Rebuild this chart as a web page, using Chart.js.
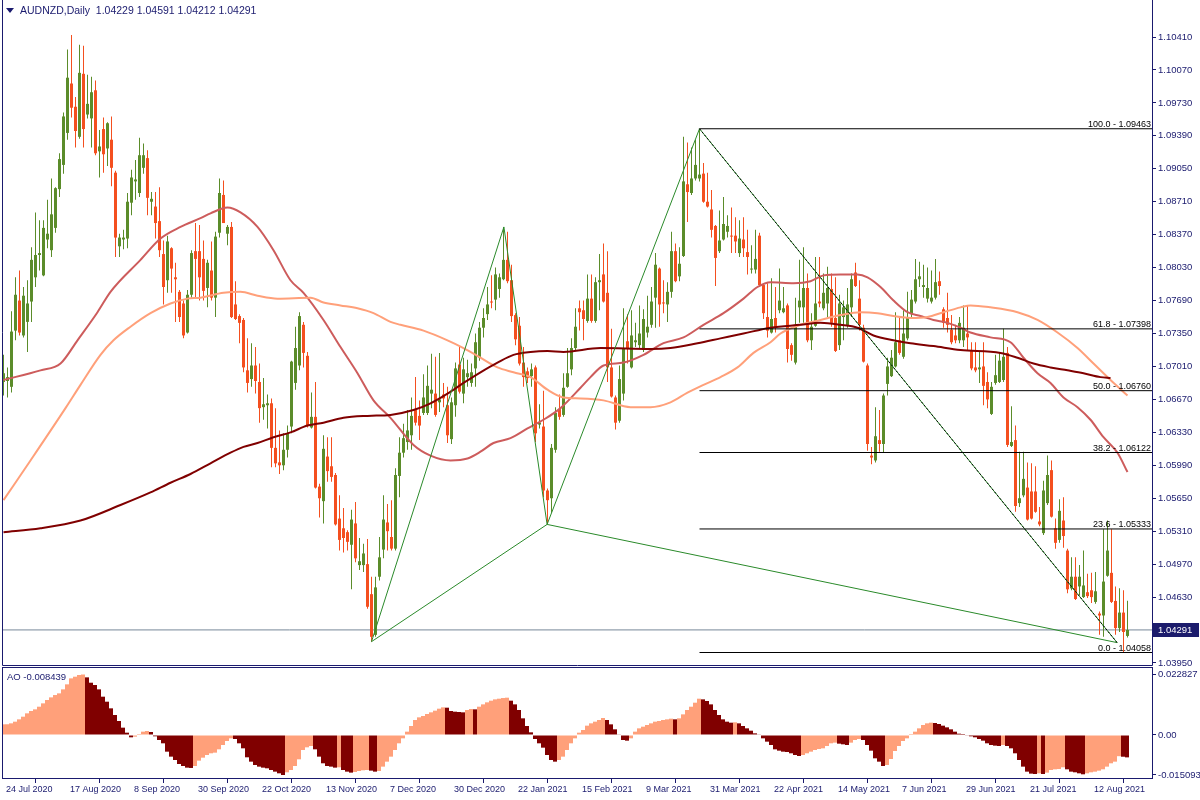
<!DOCTYPE html>
<html><head><meta charset="utf-8">
<script src="https://cdn.jsdelivr.net/npm/chart.js@4.4.1/dist/chart.umd.min.js"></script>
<style>
html,body{margin:0;padding:0;background:#fff;}
#wrap{position:relative;width:1200px;height:800px;overflow:hidden;background:#fff;}
canvas{position:absolute;left:0;top:0;}
.lbl{position:absolute;font:9.5px 'Liberation Sans',Arial,sans-serif;color:#1a1a6e;white-space:pre;line-height:12px;}
#title{font-size:10.5px;}
.tri{display:inline-block;width:0;height:0;border-left:4px solid transparent;border-right:4px solid transparent;border-top:5px solid #1a1a6e;margin-right:6px;vertical-align:1px;}
</style></head><body>
<div id="wrap">
<canvas id="main" width="1200" height="800"></canvas>
<canvas id="ao" width="1200" height="800"></canvas>
<div class="lbl" id="title" style="left:6px;top:4px"></div>
<div class="lbl" id="aoTitle" style="left:7px;top:671px"></div>
</div>
<script>
// ---------------- DATA ----------------
const symbol = 'AUDNZD,Daily';
const dateLabels = ['24 Jul 2020','17 Aug 2020','8 Sep 2020','30 Sep 2020','22 Oct 2020','13 Nov 2020','7 Dec 2020','30 Dec 2020','22 Jan 2021','15 Feb 2021','9 Mar 2021','31 Mar 2021','22 Apr 2021','14 May 2021','7 Jun 2021','29 Jun 2021','21 Jul 2021','12 Aug 2021'];
const dateIdx = [0,16,32,48,64,80,96,112,128,144,160,176,192,208,224,240,256,272];
const priceTicks = [1.10410,1.10070,1.09730,1.09390,1.09050,1.08710,1.08370,1.08030,1.07690,1.07350,1.07010,1.06670,1.06330,1.05990,1.05650,1.05310,1.04970,1.04630,1.03950];
const aoTicks = [0.022827, 0, -0.015093];
const aoTickLabels = ['0.022827','0.00','-0.015093'];

const O = [1.0685,1.0686,1.0680,1.0738,1.0769,1.0733,1.0747,1.0768,1.0793,1.0816,
1.0795,1.0832,1.0821,1.0844,1.0884,1.0909,1.0942,1.0993,1.0969,1.0938,
1.1003,1.0961,1.0957,1.0986,1.0923,1.0946,1.0926,1.0935,1.0901,1.0825,
1.0832,1.0833,1.0870,1.0892,1.0880,1.0906,1.0916,1.0871,1.0866,1.0851,
1.0817,1.0790,1.0823,1.0793,1.0778,1.0766,1.0736,1.0775,1.0820,1.0820,
1.0812,1.0782,1.0800,1.0772,1.0839,1.0878,1.0838,1.0845,1.0765,1.0753,
1.0749,1.0697,1.0688,1.0702,1.0685,1.0659,1.0661,1.0663,1.0617,1.0602,
1.0599,1.0615,1.0639,1.0684,1.0702,1.0744,1.0712,1.0638,1.0649,1.0577,
1.0562,1.0608,1.0598,1.0589,1.0544,1.0534,1.0530,1.0517,1.0539,1.0496,
1.0496,1.0497,1.0466,1.0424,1.0484,1.0512,1.0540,1.0525,1.0513,1.0588,
1.0612,1.0623,1.0630,1.0656,1.0650,1.0653,1.0653,1.0673,1.0673,1.0664,
1.0672,1.0661,1.0626,1.0661,1.0703,1.0673,1.0690,1.0684,1.0699,1.0710,
1.0741,1.0755,1.0768,1.0770,1.0781,1.0791,1.0811,1.0790,1.0754,1.0743,
1.0705,1.0696,1.0691,1.0700,1.0641,1.0639,1.0573,1.0565,1.0615,1.0657,
1.0651,1.0680,1.0698,1.0720,1.0761,1.0759,1.0748,1.0771,1.0748,1.0788,
1.0796,1.0777,1.0700,1.0669,1.0645,1.0673,1.0727,1.0700,1.0726,1.0723,
1.0718,1.0736,1.0744,1.0772,1.0802,1.0767,1.0765,1.0778,1.0820,1.0794,
1.0815,1.0889,1.0880,1.0895,1.0895,1.0900,1.0871,1.0863,1.0846,1.0820,
1.0832,1.0840,1.0836,1.0836,1.0818,1.0832,1.0819,1.0801,1.0801,1.0836,
1.0785,1.0752,1.0736,1.0751,1.0759,1.0757,1.0764,1.0723,1.0705,1.0762,
1.0762,1.0782,1.0728,1.0743,1.0768,1.0761,1.0766,1.0781,1.0751,1.0723,
1.0752,1.0743,1.0762,1.0798,1.0771,1.0741,1.0702,1.0609,1.0604,1.0625,
1.0621,1.0683,1.0691,1.0701,1.0728,1.0711,1.0730,1.0755,1.0768,1.0791,
1.0783,1.0771,1.0768,1.0772,1.0789,1.0760,1.0751,1.0739,1.0733,1.0728,
1.0728,1.0735,1.0718,1.0700,1.0698,1.0701,1.0685,1.0652,1.0684,1.0685,
1.0687,1.0715,1.0619,1.0625,1.0560,1.0568,1.0576,1.0572,1.0572,1.0541,
1.0529,1.0560,1.0594,1.0534,1.0522,1.0542,1.0511,1.0472,1.0484,1.0474,
1.0463,1.0468,1.0470,1.0458,1.0446,1.0444,1.0485,1.0488,1.0459,1.0431,
1.0447,1.04229];

const H = [1.0713,1.0700,1.0758,1.0793,1.0800,1.0783,1.0790,1.0824,1.0860,1.0852,
1.0852,1.0873,1.0895,1.0886,1.0921,1.0963,1.1028,1.1043,1.0979,1.1033,
1.1032,1.1002,1.1000,1.0996,1.0945,1.0958,1.0953,1.0959,1.0903,1.0838,
1.0842,1.0880,1.0904,1.0914,1.0937,1.0931,1.0924,1.0881,1.0881,1.0886,
1.0831,1.0836,1.0824,1.0808,1.0780,1.0769,1.0780,1.0821,1.0849,1.0847,
1.0831,1.0811,1.0830,1.0840,1.0895,1.0893,1.0847,1.0850,1.0789,1.0755,
1.0751,1.0730,1.0725,1.0721,1.0704,1.0689,1.0672,1.0668,1.0658,1.0635,
1.0632,1.0640,1.0707,1.0742,1.0757,1.0747,1.0716,1.0674,1.0685,1.0580,
1.0630,1.0628,1.0628,1.0591,1.0568,1.0555,1.0532,1.0553,1.0561,1.0524,
1.0518,1.0523,1.0484,1.0484,1.0525,1.0568,1.0559,1.0563,1.0596,1.0628,
1.0642,1.0656,1.0669,1.0690,1.0666,1.0693,1.0702,1.0714,1.0711,1.0715,
1.0684,1.0680,1.0669,1.0705,1.0721,1.0710,1.0708,1.0704,1.0735,1.0747,
1.0761,1.0783,1.0795,1.0803,1.0797,1.0845,1.0840,1.0806,1.0756,1.0752,
1.0721,1.0700,1.0704,1.0702,1.0662,1.0676,1.0575,1.0621,1.0659,1.0672,
1.0694,1.0720,1.0730,1.0761,1.0769,1.0769,1.0796,1.0796,1.0793,1.0817,
1.0828,1.0820,1.0740,1.0671,1.0702,1.0761,1.0755,1.0759,1.0746,1.0764,
1.0760,1.0774,1.0783,1.0818,1.0803,1.0790,1.0788,1.0840,1.0828,1.0824,
1.0938,1.0932,1.0927,1.0935,1.09463,1.0911,1.0901,1.0883,1.0847,1.0862,
1.0876,1.0857,1.0865,1.0855,1.0852,1.0855,1.0842,1.0826,1.0842,1.0839,
1.0787,1.0787,1.0792,1.0783,1.0802,1.0783,1.0766,1.0725,1.0772,1.0811,
1.0824,1.0797,1.0756,1.0814,1.0814,1.0797,1.0804,1.0797,1.0793,1.0775,
1.0769,1.0782,1.0797,1.0808,1.0790,1.0744,1.0704,1.0618,1.0659,1.0656,
1.0673,1.0710,1.0718,1.0757,1.0752,1.0759,1.0778,1.0780,1.0812,1.0809,
1.0806,1.0803,1.0800,1.0812,1.0799,1.0762,1.0777,1.0754,1.0744,1.0752,
1.0764,1.0764,1.0726,1.0726,1.0716,1.0726,1.0695,1.0685,1.0713,1.0716,
1.0740,1.0721,1.0660,1.0640,1.0613,1.0613,1.0602,1.0601,1.0598,1.0556,
1.0583,1.0609,1.0604,1.0544,1.0564,1.0566,1.0513,1.0504,1.0504,1.0496,
1.0511,1.0487,1.0488,1.0489,1.0448,1.0533,1.0542,1.0533,1.0474,1.0472,
1.0470,1.04591];

const L = [1.0671,1.0669,1.0674,1.0728,1.0733,1.0731,1.0716,1.0747,1.0783,1.0800,
1.0794,1.0823,1.0814,1.0839,1.0876,1.0900,1.0935,1.0958,1.0927,1.0936,
1.0927,1.0957,1.0927,1.0919,1.0896,1.0901,1.0908,1.0887,1.0814,1.0814,
1.0822,1.0823,1.0857,1.0873,1.0876,1.0900,1.0857,1.0857,1.0833,1.0814,
1.0765,1.0777,1.0777,1.0747,1.0747,1.0730,1.0735,1.0772,1.0771,1.0769,
1.0769,1.0762,1.0769,1.0752,1.0834,1.0849,1.0826,1.0751,1.0749,1.0725,
1.0695,1.0674,1.0680,1.0673,1.0643,1.0646,1.0637,1.0597,1.0597,1.0590,
1.0594,1.0607,1.0632,1.0677,1.0697,1.0700,1.0638,1.0637,1.0575,1.0545,
1.0539,1.0582,1.0582,1.0537,1.0511,1.0509,1.0511,1.0471,1.0499,1.0491,
1.0489,1.0451,1.0417,1.0422,1.0480,1.0503,1.0511,1.0511,1.0511,1.0566,
1.0607,1.0615,1.0615,1.0640,1.0625,1.0651,1.0651,1.0658,1.0649,1.0654,
1.0659,1.0622,1.0621,1.0649,1.0673,1.0663,1.0680,1.0680,1.0680,1.0707,
1.0731,1.0749,1.0761,1.0759,1.0772,1.0790,1.0787,1.0747,1.0723,1.0702,
1.0680,1.0684,1.0680,1.0623,1.0637,1.0566,1.0539,1.0550,1.0612,1.0646,
1.0649,1.0679,1.0692,1.0718,1.0738,1.0728,1.0746,1.0746,1.0746,1.0759,
1.0767,1.0685,1.0669,1.0636,1.0643,1.0666,1.0704,1.0699,1.0721,1.0720,
1.0716,1.0731,1.0741,1.0741,1.0742,1.0756,1.0747,1.0772,1.0788,1.0789,
1.0814,1.0850,1.0878,1.0893,1.0892,1.0870,1.0865,1.0834,1.0784,1.0818,
1.0831,1.0834,1.0818,1.0818,1.0814,1.0814,1.0796,1.0797,1.0797,1.0783,
1.0750,1.0731,1.0735,1.0736,1.0756,1.0756,1.0705,1.0707,1.0703,1.0746,
1.0746,1.0726,1.0718,1.0742,1.0762,1.0759,1.0752,1.0742,1.0716,1.0718,
1.0728,1.0741,1.0752,1.0783,1.0738,1.0705,1.0614,1.0600,1.0602,1.0613,
1.0612,1.0671,1.0690,1.0700,1.0713,1.0709,1.0728,1.0752,1.0766,1.0783,
1.0772,1.0767,1.0766,1.0770,1.0775,1.0741,1.0736,1.0724,1.0725,1.0725,
1.0721,1.0718,1.0697,1.0695,1.0684,1.0661,1.0658,1.0651,1.0682,1.0684,
1.0685,1.0618,1.0618,1.0551,1.0556,1.0566,1.0542,1.0543,1.0550,1.0536,
1.0527,1.0558,1.0545,1.0513,1.0519,1.0514,1.0467,1.0470,1.0460,1.0465,
1.0462,1.0462,1.0457,1.0456,1.0424,1.0422,1.0484,1.0457,1.0424,1.0427,
1.04058,1.04212];

const C = [1.0694,1.0690,1.0737,1.0775,1.0736,1.0774,1.0766,1.0811,1.0816,1.0818,
1.0844,1.0838,1.0858,1.0885,1.0915,1.0959,1.0999,1.0968,1.0944,1.1004,
1.0946,1.0972,1.0984,1.0921,1.0928,1.0920,1.0952,1.0906,1.0834,1.0834,
1.0834,1.0871,1.0896,1.0894,1.0919,1.0919,1.0875,1.0874,1.0849,1.0821,
1.0783,1.0830,1.0802,1.0791,1.0752,1.0733,1.0775,1.0818,1.0812,1.0793,
1.0779,1.0808,1.0772,1.0835,1.0880,1.0849,1.0845,1.0752,1.0750,1.0746,
1.0700,1.0684,1.0702,1.0686,1.0658,1.0662,1.0663,1.0617,1.0601,1.0599,
1.0615,1.0632,1.0706,1.0720,1.0753,1.0715,1.0640,1.0649,1.0576,1.0565,
1.0616,1.0593,1.0587,1.0538,1.0522,1.0524,1.0520,1.0543,1.0503,1.0500,
1.0508,1.0453,1.0422,1.0473,1.0504,1.0543,1.0531,1.0513,1.0589,1.0612,
1.0627,1.0635,1.0650,1.0643,1.0640,1.0669,1.0681,1.0677,1.0651,1.0667,
1.0668,1.0630,1.0664,1.0699,1.0675,1.0698,1.0694,1.0695,1.0726,1.0741,
1.0751,1.0765,1.0767,1.0796,1.0793,1.0811,1.0789,1.0753,1.0729,1.0704,
1.0690,1.0689,1.0698,1.0632,1.0643,1.0573,1.0563,1.0617,1.0653,1.0649,
1.0679,1.0694,1.0720,1.0742,1.0757,1.0750,1.0771,1.0748,1.0788,1.0790,
1.0768,1.0700,1.0670,1.0643,1.0688,1.0720,1.0720,1.0733,1.0728,1.0735,
1.0750,1.0742,1.0768,1.0806,1.0765,1.0766,1.0778,1.0820,1.0789,1.0807,
1.0892,1.0881,1.0895,1.0909,1.0899,1.0871,1.0866,1.0842,1.0813,1.0831,
1.0848,1.0846,1.0835,1.0830,1.0833,1.0823,1.0814,1.0802,1.0812,1.0785,
1.0756,1.0738,1.0750,1.0741,1.0769,1.0761,1.0719,1.0713,1.0744,1.0769,
1.0782,1.0728,1.0742,1.0766,1.0766,1.0777,1.0782,1.0746,1.0717,1.0766,
1.0762,1.0765,1.0791,1.0784,1.0744,1.0706,1.0621,1.0607,1.0629,1.0621,
1.0671,1.0701,1.0710,1.0726,1.0715,1.0735,1.0752,1.0770,1.0791,1.0794,
1.0785,1.0782,1.0772,1.0788,1.0784,1.0746,1.0744,1.0726,1.0728,1.0746,
1.0741,1.0731,1.0699,1.0697,1.0700,1.0681,1.0667,1.0680,1.0692,1.0707,
1.0711,1.0620,1.0623,1.0557,1.0565,1.0585,1.0543,1.0544,1.0551,1.0538,
1.0573,1.0589,1.0546,1.0519,1.0552,1.0526,1.0471,1.0484,1.0461,1.0484,
1.0475,1.0464,1.0463,1.0469,1.0444,1.0479,1.0511,1.0458,1.0431,1.0447,
1.0427,1.04291];

// moving averages (sampled along the bar index)
const maMidIdx = [0,9.25,14.25,18.5,23.5,26.75,34.25,39.25,44.25,49.25,51.75,56,59.25,63.5,67.5,71.75,75,80,84.25,88.5,92.5,96.75,102.5,106.75,111.75,116,119.25,122.5,126.75,131,135,139.25,144.25,146.75,150,155,160,165,170,175,180,185,188.5,191.75,197.5,201.75,205,209.25,213.5,216,219.25,222.5,226,229.25,232.5,236,239.25,241.75,246.75,251.75,255,258.5,261.75,265,268.5,271.75,275,278.5,281];
const maMidVal = [1.0687,1.0697,1.0704,1.0728,1.0757,1.0778,1.0811,1.0833,1.0845,1.0854,1.0859,1.0865,1.0860,1.0845,1.0821,1.0790,1.0777,1.0749,1.0721,1.0694,1.0666,1.0648,1.0620,1.0609,1.0604,1.0606,1.0613,1.0622,1.0627,1.0637,1.0646,1.0658,1.0679,1.0690,1.0702,1.0705,1.0713,1.0725,1.0731,1.0744,1.0756,1.0771,1.0783,1.0788,1.0787,1.0789,1.0795,1.0796,1.0796,1.0793,1.0783,1.0769,1.0757,1.0753,1.0749,1.0746,1.0741,1.0736,1.0731,1.0726,1.0710,1.0694,1.0684,1.0669,1.0659,1.0646,1.0628,1.0612,1.0592];
const maSlowIdx = [0,6.75,15.5,19.25,24.25,27.5,31.75,36.75,41.75,46,49.25,55,59.25,63.5,68.5,76.75,80,84.25,88.5,92.5,96.75,99.25,105,111,115,119.25,123.5,127.5,131.75,136,140,144.25,150,156.75,161.75,166.75,171,175,179.25,183.5,187.5,191.75,194.25,199.25,204.25,209.25,214.25,218.5,222.5,226.75,231,235,239.25,241.75,246.75,253.5,258.5,263.5,268.5,272.5,276.75,281];
const maSlowVal = [1.0563,1.0604,1.0658,1.0682,1.0713,1.0728,1.0742,1.0756,1.0766,1.0771,1.0772,1.0777,1.0778,1.0774,1.0771,1.0772,1.0767,1.0764,1.0761,1.0756,1.0747,1.0744,1.0738,1.0728,1.0720,1.0710,1.0700,1.0695,1.0690,1.0677,1.0669,1.0668,1.0666,1.0659,1.0659,1.0664,1.0674,1.0682,1.0690,1.0700,1.0715,1.0726,1.0735,1.0744,1.0749,1.0754,1.0757,1.0756,1.0753,1.0751,1.0752,1.0757,1.0762,1.0764,1.0762,1.0757,1.0749,1.0736,1.0720,1.0704,1.0687,1.0671];
const maLongIdx = [0,9.25,19.25,29.25,36.75,41.75,46.75,51.75,56.75,60,63.5,67.5,71.75,76,80,85,91,96.75,102.5,106.75,111,115,119.25,123.5,127.5,131.75,136,140,149.25,161.75,166.75,173.5,179.25,185,191.75,199.25,204.25,209.25,213.5,217.5,222.5,226.75,232.5,239.25,249.25,253.5,257.5,261.75,266,270,274.25,276.75];
const maLongVal = [1.0530,1.0534,1.0542,1.0558,1.0571,1.0581,1.0590,1.0601,1.0612,1.0618,1.0622,1.0628,1.0633,1.0640,1.0643,1.0648,1.0650,1.0651,1.0656,1.0663,1.0673,1.0684,1.0695,1.0705,1.0713,1.0716,1.0717,1.0716,1.0720,1.0719,1.0720,1.0725,1.0730,1.0735,1.0741,1.0744,1.0746,1.0744,1.0741,1.0733,1.0728,1.0725,1.0722,1.0718,1.0715,1.0710,1.0704,1.0700,1.0697,1.0694,1.0690,1.0689];

// Fibonacci retracement
const fibStart = 174;
const fibPct = [100.0, 61.8, 50.0, 38.2, 23.6, 0.0];
const fibPrice = [1.09463, 1.07398, 1.06760, 1.06122, 1.05333, 1.04058];

// harmonic pattern X, A, B, C, D
const patIdx = [92, 125.1, 135.9, 174, 278.4];
const patPrice = [1.0417, 1.0845, 1.0538, 1.09463, 1.0416];

// Awesome Oscillator
const AO = [0.00402,0.00405,0.00440,0.00503,0.00591,0.00691,0.00817,0.00905,0.00968,0.01068,
0.01194,0.01320,0.01420,0.01508,0.01571,0.01722,0.01911,0.02137,0.02200,0.02263,
0.022827,0.02175,0.01973,0.01886,0.01722,0.01446,0.01257,0.01006,0.00754,0.00528,
0.00277,0.00088,-0.00088,-0.00063,0.00038,0.00126,0.00151,0.00113,-0.00050,-0.00189,
-0.00314,-0.00629,-0.00817,-0.00943,-0.01094,-0.01169,-0.01232,-0.01244,-0.01169,-0.00968,
-0.00855,-0.00754,-0.00691,-0.00666,-0.00541,-0.00377,-0.00226,-0.00126,-0.00151,-0.00314,
-0.00503,-0.00842,-0.01006,-0.01131,-0.01194,-0.01232,-0.01257,-0.01320,-0.01383,-0.01446,
-0.015093,-0.01408,-0.01320,-0.01169,-0.00918,-0.00566,-0.00465,-0.00415,-0.00541,-0.00817,
-0.01068,-0.01169,-0.01194,-0.01232,-0.01219,-0.01320,-0.01383,-0.01420,-0.01395,-0.01358,
-0.01332,-0.01320,-0.01345,-0.01383,-0.01358,-0.01194,-0.01006,-0.00817,-0.00566,-0.00314,
-0.00126,0.00126,0.00339,0.00566,0.00666,0.00716,0.00792,0.00855,0.00918,0.00993,
0.01043,0.01031,0.00905,0.00880,0.00867,0.00855,0.00943,0.00980,0.00968,0.01068,
0.01156,0.01232,0.01295,0.01345,0.01370,0.01395,0.01408,0.01295,0.01156,0.00943,
0.00629,0.00339,0.00101,-0.00151,-0.00314,-0.00478,-0.00754,-0.00943,-0.01006,-0.00943,
-0.00817,-0.00566,-0.00314,-0.00126,0.00088,0.00189,0.00352,0.00440,0.00503,0.00566,
0.00641,0.00566,0.00402,0.00214,0.00013,-0.00189,-0.00214,-0.00126,0.00126,0.00251,
0.00314,0.00377,0.00440,0.00503,0.00528,0.00566,0.00591,0.00616,0.00591,0.00629,
0.00779,0.00943,0.01068,0.01219,0.01370,0.01345,0.01282,0.01156,0.00943,0.00754,
0.00591,0.00503,0.00465,0.00478,0.00440,0.00339,0.00251,0.00163,0.00063,0.00013,
-0.00126,-0.00251,-0.00377,-0.00541,-0.00591,-0.00629,-0.00641,-0.00691,-0.00754,-0.00792,
-0.00754,-0.00691,-0.00629,-0.00566,-0.00528,-0.00503,-0.00415,-0.00314,-0.00289,-0.00327,
-0.00352,-0.00377,-0.00289,-0.00189,-0.00151,-0.00189,-0.00377,-0.00591,-0.00880,-0.01006,
-0.01169,-0.01131,-0.00905,-0.00603,-0.00415,-0.00226,-0.00126,0.00038,0.00126,0.00251,
0.00377,0.00440,0.00465,0.00453,0.00415,0.00352,0.00289,0.00214,0.00126,0.00050,
0.00038,-0.00013,-0.00050,-0.00088,-0.00151,-0.00214,-0.00314,-0.00377,-0.00402,-0.00415,
-0.00377,-0.00415,-0.00503,-0.00691,-0.00943,-0.01194,-0.01383,-0.01458,-0.01471,-0.01446,
-0.01471,-0.01420,-0.01320,-0.01295,-0.01282,-0.01219,-0.01295,-0.01383,-0.01408,-0.01446,
-0.01483,-0.01446,-0.01408,-0.01383,-0.01345,-0.01295,-0.01194,-0.01068,-0.01006,-0.00800,
-0.00820,-0.008439];

// ---------------- STYLE / LAYOUT ----------------
const FONT = "'Liberation Sans',Arial,sans-serif";
const NAVY = '#1a1a6e';
const BULL = '#5b8c2a', BEAR = '#f44f1f';
const AO_UP = '#ffa07a', AO_DOWN = '#800000';
const X_MIN = -0.375, X_MAX = 287.125;
const Y_MIN = 1.0391877, Y_MAX = 1.1079184;
const AO_MIN = -0.016225, AO_MAX = 0.025280;

Chart.defaults.font.family = FONT;
Chart.defaults.font.size = 9.5;
Chart.defaults.color = NAVY;

const n = O.length, last = n - 1;
const idx = O.map((_, i) => i);
const candleColors = idx.map(i => C[i] >= O[i] ? BULL : BEAR);
const aoColors = AO.map((v, i) => (i === 0 || v > AO[i - 1]) ? AO_UP : AO_DOWN);
const pts = (xs, ys) => xs.map((x, k) => ({x, y: ys[k]}));

document.getElementById('title').innerHTML = '<span class="tri"></span>';
document.getElementById('title').appendChild(document.createTextNode(
  symbol + '  ' + [O[last], H[last], L[last], C[last]].map(v => v.toFixed(5)).join(' ')));
document.getElementById('aoTitle').textContent = 'AO ' + AO[last].toFixed(6);

const lineDS = (data, color, width, order, extra) => Object.assign({
  type: 'line', data, borderColor: color, borderWidth: width, pointRadius: 0,
  fill: false, tension: 0, order
}, extra || {});

const datasets = [
  {type: 'bar', data: idx.map(i => ({x: i, y: [L[i], H[i]]})), backgroundColor: candleColors,
   barThickness: 1, grouped: false, minBarLength: 1, inflateAmount: 0, borderWidth: 0, order: 6},
  {type: 'bar', data: idx.map(i => ({x: i, y: [O[i], C[i]]})), backgroundColor: candleColors,
   barThickness: 3, grouped: false, minBarLength: 1, inflateAmount: 0, borderWidth: 0, order: 5},
  lineDS([{x: X_MIN, y: C[last]}, {x: X_MAX, y: C[last]}], '#778899', 1, 7),
  lineDS(pts(maLongIdx, maLongVal), '#800000', 2, 3, {tension: 0.4, cubicInterpolationMode: 'monotone'}),
  lineDS(pts(maSlowIdx, maSlowVal), '#ffa07a', 2, 3, {tension: 0.4, cubicInterpolationMode: 'monotone'}),
  lineDS(pts(maMidIdx, maMidVal), '#cd5c5c', 2, 3, {tension: 0.4, cubicInterpolationMode: 'monotone'}),
  lineDS(pts([patIdx[0], patIdx[1], patIdx[2], patIdx[0]], [patPrice[0], patPrice[1], patPrice[2], patPrice[0]]), '#2a8a2a', 1, 2),
  lineDS(pts([patIdx[2], patIdx[3], patIdx[4], patIdx[2]], [patPrice[2], patPrice[3], patPrice[4], patPrice[2]]), '#2a8a2a', 1, 2),
  lineDS(pts([patIdx[3], patIdx[4]], [patPrice[3], patPrice[4]]), '#000000', 1, 1, {borderDash: [2, 2]})
];
fibPrice.forEach(p => datasets.push(lineDS([{x: fibStart, y: p}, {x: X_MAX, y: p}], '#000000', 1, 1)));

const mainPlugin = {
  id: 'mainDeco',
  afterDatasetsDraw(chart) {
    const {ctx, chartArea: a, scales: {y}} = chart;
    ctx.save();
    ctx.font = '9px ' + FONT;
    ctx.fillStyle = '#000';
    ctx.textAlign = 'right';
    ctx.textBaseline = 'alphabetic';
    fibPct.forEach((pct, k) => {
      const yy = y.getPixelForValue(fibPrice[k]);
      ctx.fillText(pct.toFixed(1) + ' - ' + fibPrice[k].toFixed(5), a.right - 1, yy - 2);
    });
    ctx.restore();
  },
  afterDraw(chart) {
    const {ctx, chartArea: a, scales: {y}} = chart;
    ctx.save();
    ctx.strokeStyle = NAVY; ctx.lineWidth = 1;
    ctx.beginPath();
    ctx.moveTo(a.left + 0.5, 0); ctx.lineTo(a.left + 0.5, a.bottom - 0.5);
    ctx.lineTo(a.right + 0.5, a.bottom - 0.5); ctx.lineTo(a.right + 0.5, 0);
    ctx.stroke();
    const yy = Math.round(y.getPixelForValue(C[last]));
    ctx.fillStyle = '#1c1c6c';
    ctx.fillRect(a.right + 1, yy - 7, 46, 14);
    ctx.fillStyle = '#ffffff';
    ctx.font = '9.5px ' + FONT;
    ctx.textAlign = 'left'; ctx.textBaseline = 'middle';
    ctx.fillText(C[last].toFixed(5), a.right + 6, yy);
    ctx.restore();
  }
};

new Chart(document.getElementById('main'), {
  type: 'bar',
  data: {datasets},
  options: {
    animation: false, responsive: false, devicePixelRatio: 1, events: [],
    layout: {padding: {left: 2, right: 0, top: 0, bottom: 134}},
    plugins: {legend: {display: false}, tooltip: {enabled: false}},
    scales: {
      x: {type: 'linear', min: X_MIN, max: X_MAX, display: false, offset: false},
      y: {
        type: 'linear', position: 'right', min: Y_MIN, max: Y_MAX,
        afterBuildTicks: s => { s.ticks = priceTicks.map(v => ({value: v})); },
        afterFit: s => { s.width = 48; s.paddingTop = 0; s.paddingBottom = 0; },
        ticks: {callback: v => Number(v).toFixed(5), autoSkip: false, padding: 2, color: NAVY},
        grid: {drawOnChartArea: false, drawTicks: true, tickLength: 4, color: NAVY},
        border: {display: false}
      }
    }
  },
  plugins: [mainPlugin]
});

const aoPlugin = {
  id: 'aoFrame',
  afterDraw(chart) {
    const {ctx, chartArea: a} = chart;
    ctx.save();
    ctx.strokeStyle = NAVY; ctx.lineWidth = 1;
    ctx.strokeRect(a.left + 0.5, a.top - 0.5, a.right - a.left, a.bottom - a.top + 1);
    ctx.restore();
  }
};

new Chart(document.getElementById('ao'), {
  type: 'bar',
  data: {datasets: [{data: idx.map(i => ({x: i, y: AO[i]})), backgroundColor: aoColors,
    barThickness: 4, grouped: false, inflateAmount: 0, borderWidth: 0}]},
  options: {
    animation: false, responsive: false, devicePixelRatio: 1, events: [],
    layout: {padding: {left: 2, right: 0, top: 668, bottom: 0}},
    plugins: {legend: {display: false}, tooltip: {enabled: false}},
    scales: {
      x: {
        type: 'linear', min: -0.25, max: 287.25, offset: false,
        afterBuildTicks: s => { s.ticks = dateIdx.map(v => ({value: v})); },
        afterFit: s => { s.height = 22; s.paddingLeft = 0; s.paddingRight = 0; },
        ticks: {callback: v => { const k = dateIdx.indexOf(v); return k >= 0 ? dateLabels[k] : ''; },
                autoSkip: false, maxRotation: 0, minRotation: 0, align: 'start', labelOffset: 3, padding: 1,
                color: NAVY, font: {size: 9}},
        grid: {drawOnChartArea: false, drawTicks: true, tickLength: 5, color: NAVY},
        border: {display: false}
      },
      y: {
        type: 'linear', position: 'right', min: AO_MIN, max: AO_MAX,
        afterBuildTicks: s => { s.ticks = aoTicks.map(v => ({value: v})); },
        afterFit: s => { s.width = 48; s.paddingTop = 0; s.paddingBottom = 0; },
        ticks: {callback: (v, i) => aoTickLabels[i], autoSkip: false, padding: 2, color: NAVY},
        grid: {drawOnChartArea: false, drawTicks: true, tickLength: 4, color: NAVY},
        border: {display: false}
      }
    }
  },
  plugins: [aoPlugin]
});
</script>
</body></html>
